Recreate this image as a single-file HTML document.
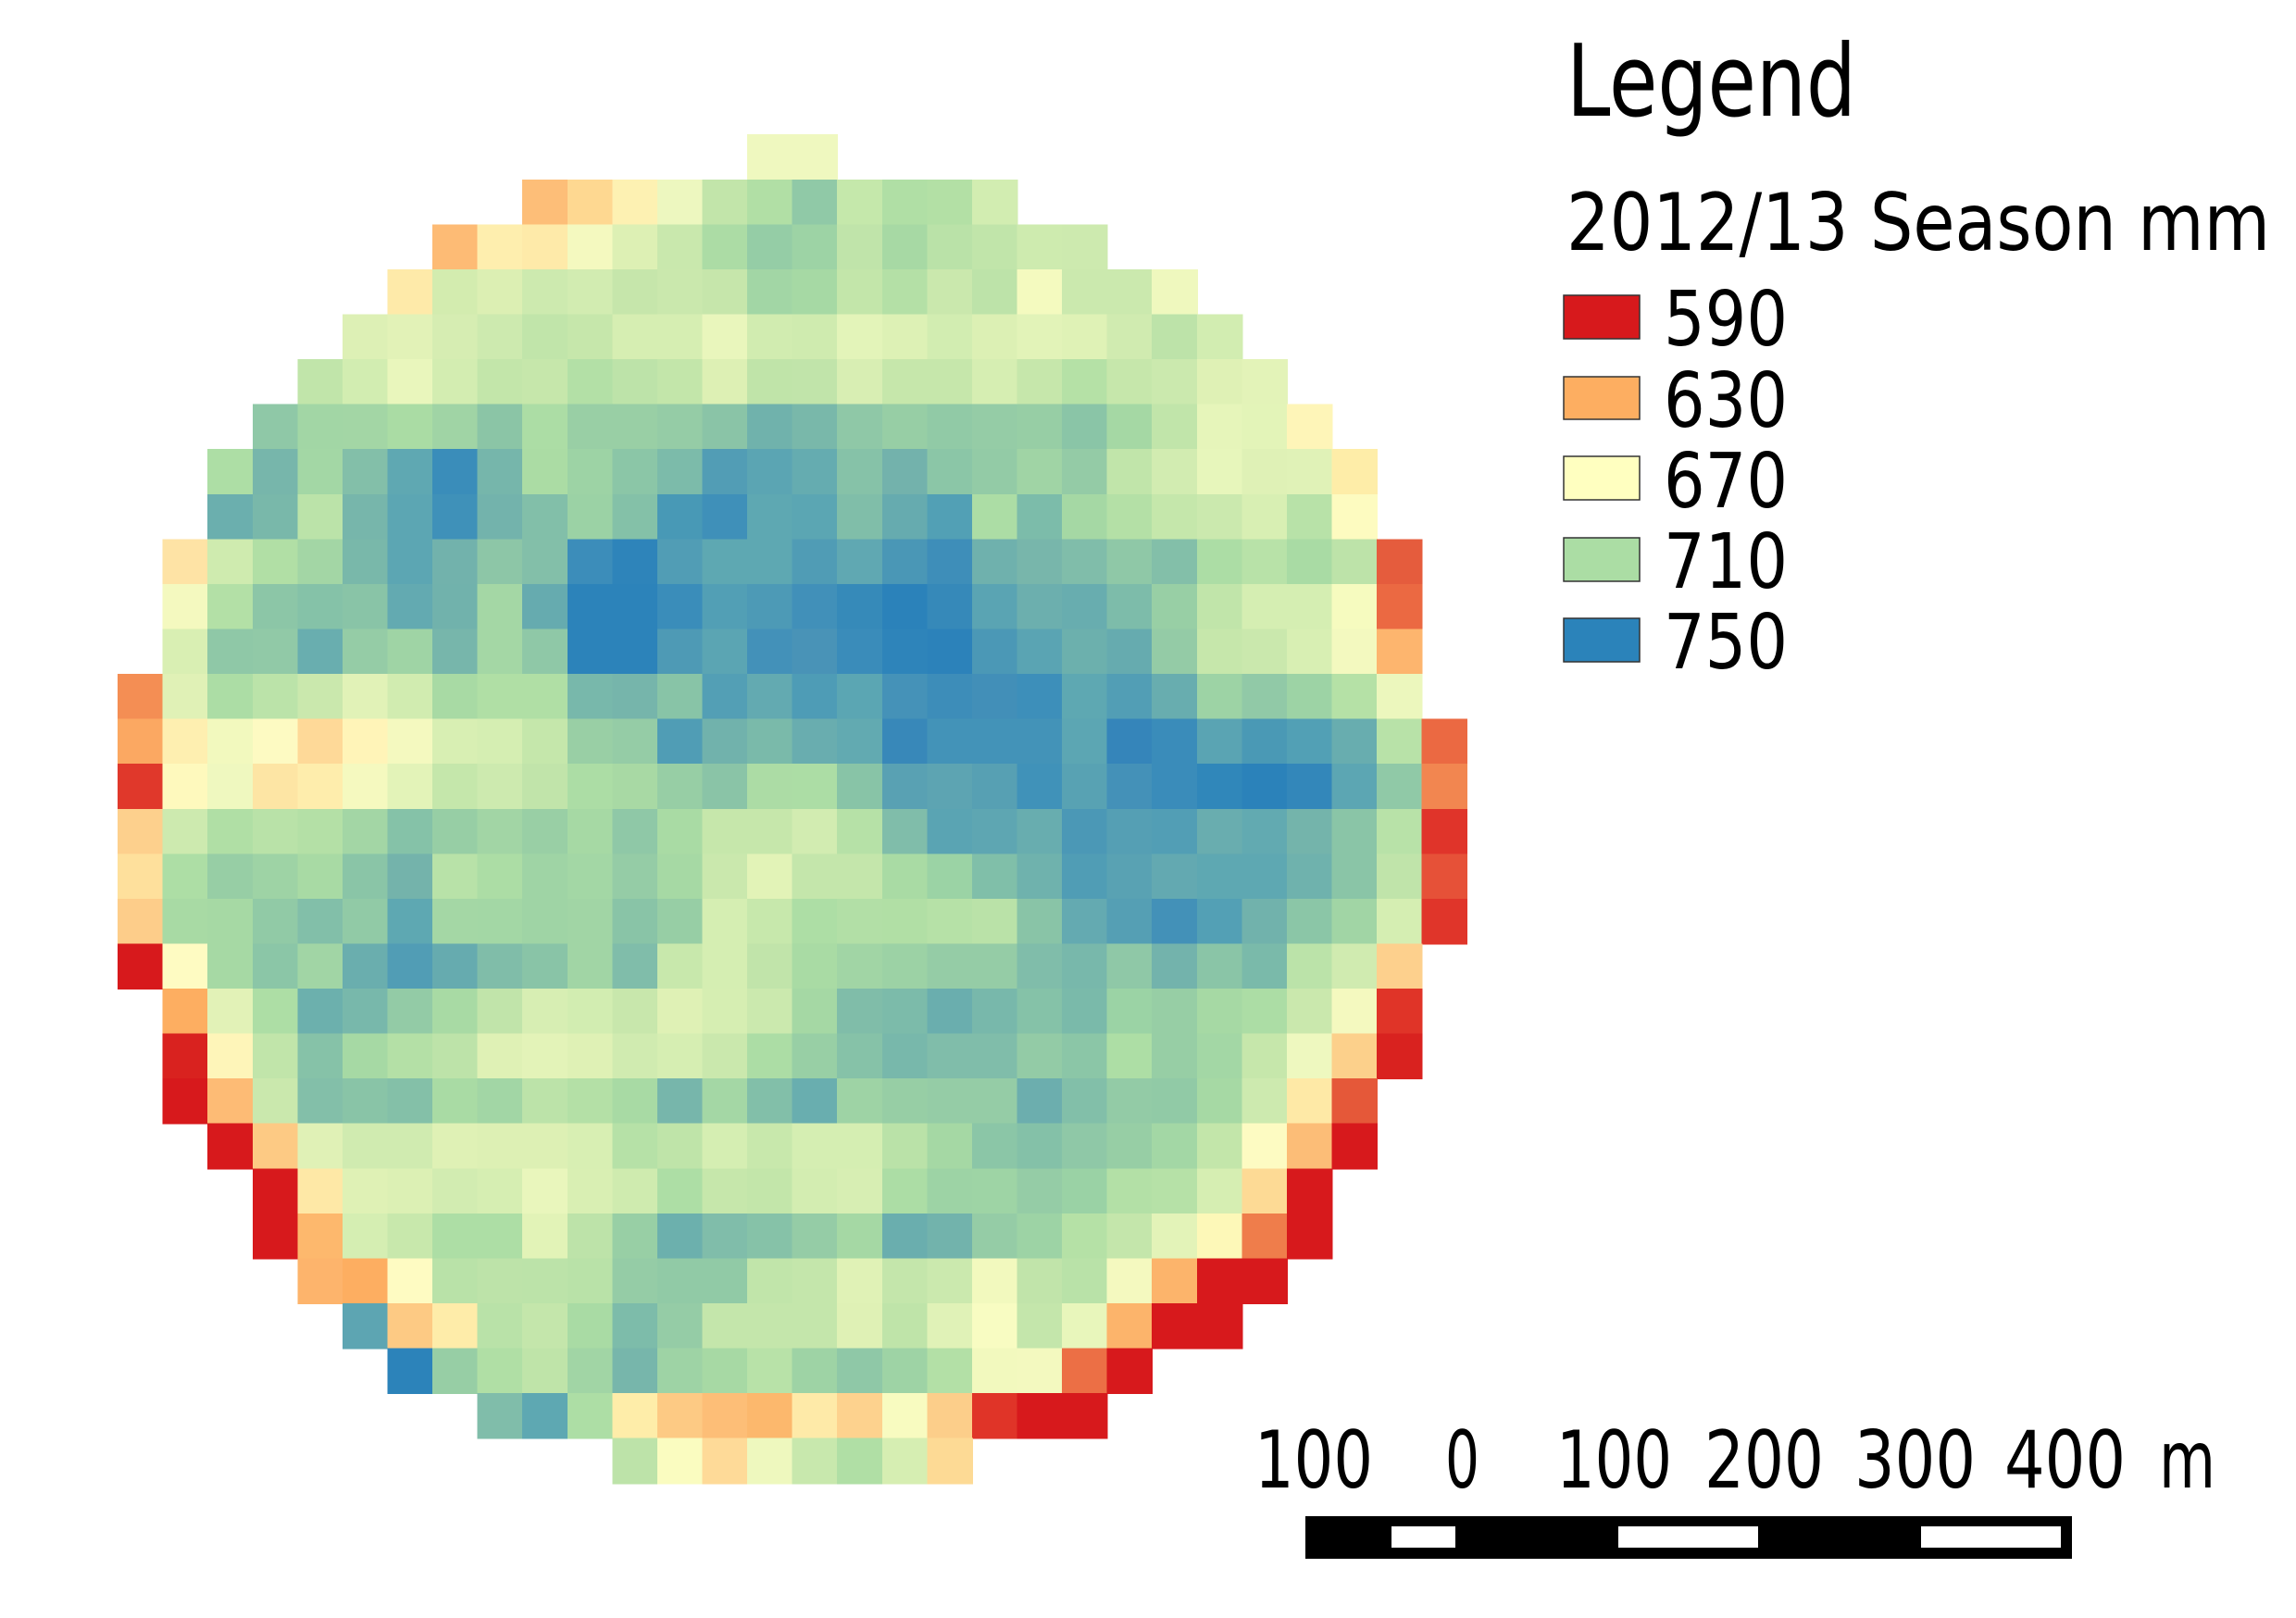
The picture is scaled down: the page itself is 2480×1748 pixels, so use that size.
<!DOCTYPE html>
<html><head><meta charset="utf-8"><style>
html,body{margin:0;padding:0;background:#fff;}
svg{display:block}
#grid rect{width:1.02px;height:1.02px}
text{font-family:"DejaVu Sans","Liberation Sans",sans-serif;fill:#000}
</style></head><body>
<svg width="2480" height="1748" viewBox="0 0 2480 1748" xmlns="http://www.w3.org/2000/svg">
<rect width="2480" height="1748" fill="#fff"/>
<g id="grid" transform="translate(127.1,145.2) scale(48.57)" shape-rendering="crispEdges">
<g transform="translate(0,0)"><rect x="14" fill="#eff8bf"/><rect x="15" fill="#eff8bf"/></g>
<g transform="translate(0,1)"><rect x="9" fill="#fdbe78"/><rect x="10" fill="#fed891"/><rect x="11" fill="#fdf1b2"/><rect x="12" fill="#edf7bf"/><rect x="13" fill="#c2e5aa"/><rect x="14" fill="#b1dfa5"/><rect x="15" fill="#90c9a7"/><rect x="16" fill="#c5e8ab"/><rect x="17" fill="#b0dfa5"/><rect x="18" fill="#b3e0a5"/><rect x="19" fill="#d2edb1"/></g>
<g transform="translate(0,2)"><rect x="7" fill="#fdbb75"/><rect x="8" fill="#feeeae"/><rect x="9" fill="#feeaa9"/><rect x="10" fill="#f4f9bf"/><rect x="11" fill="#ddf0b4"/><rect x="12" fill="#c9e8ad"/><rect x="13" fill="#acdca5"/><rect x="14" fill="#95cda6"/><rect x="15" fill="#9dd3a5"/><rect x="16" fill="#c0e4aa"/><rect x="17" fill="#a7d9a4"/><rect x="18" fill="#bae2a8"/><rect x="19" fill="#c1e5aa"/><rect x="20" fill="#ceebaf"/><rect x="21" fill="#cdeaaf"/></g>
<g transform="translate(0,3)"><rect x="6" fill="#feeaa9"/><rect x="7" fill="#d3ecaf"/><rect x="8" fill="#dcefb3"/><rect x="9" fill="#cdeaaf"/><rect x="10" fill="#d2ecb1"/><rect x="11" fill="#c6e6ab"/><rect x="12" fill="#cae8ad"/><rect x="13" fill="#c6e6ab"/><rect x="14" fill="#a2d6a5"/><rect x="15" fill="#a6d9a4"/><rect x="16" fill="#c3e6aa"/><rect x="17" fill="#b4e0a6"/><rect x="18" fill="#cae8ad"/><rect x="19" fill="#bde3a9"/><rect x="20" fill="#f4fabf"/><rect x="21" fill="#cbe9ae"/><rect x="22" fill="#cbe9ae"/><rect x="23" fill="#eff8be"/></g>
<g transform="translate(0,4)"><rect x="5" fill="#ddf0b5"/><rect x="6" fill="#e2f2b7"/><rect x="7" fill="#d6edb2"/><rect x="8" fill="#cdeaaf"/><rect x="9" fill="#c1e5aa"/><rect x="10" fill="#c6e7ab"/><rect x="11" fill="#d6eeb2"/><rect x="12" fill="#d6eeb2"/><rect x="13" fill="#e9f6bc"/><rect x="14" fill="#d1ecb0"/><rect x="15" fill="#cfebaf"/><rect x="16" fill="#e3f4b9"/><rect x="17" fill="#ddf1b5"/><rect x="18" fill="#d2edb1"/><rect x="19" fill="#dcf0b4"/><rect x="20" fill="#e2f3b8"/><rect x="21" fill="#dff2b6"/><rect x="22" fill="#d0ebb0"/><rect x="23" fill="#bde3a9"/><rect x="24" fill="#d2edb1"/></g>
<g transform="translate(0,5)"><rect x="4" fill="#c1e5aa"/><rect x="5" fill="#d2edb1"/><rect x="6" fill="#e9f6bc"/><rect x="7" fill="#d3edb1"/><rect x="8" fill="#c3e6aa"/><rect x="9" fill="#c6e7ab"/><rect x="10" fill="#b3e0a6"/><rect x="11" fill="#bde3a9"/><rect x="12" fill="#c3e6aa"/><rect x="13" fill="#ddf0b4"/><rect x="14" fill="#c0e4a9"/><rect x="15" fill="#c1e4aa"/><rect x="16" fill="#d8eeb3"/><rect x="17" fill="#c6e7ab"/><rect x="18" fill="#c6e7ab"/><rect x="19" fill="#d6eeb2"/><rect x="20" fill="#c6e7ab"/><rect x="21" fill="#b5e1a6"/><rect x="22" fill="#c6e7ab"/><rect x="23" fill="#cbe9ae"/><rect x="24" fill="#dff1b5"/><rect x="25" fill="#e3f3b8"/></g>
<g transform="translate(0,6)"><rect x="3" fill="#8fc8a7"/><rect x="4" fill="#a2d6a5"/><rect x="5" fill="#a3d6a5"/><rect x="6" fill="#aadca4"/><rect x="7" fill="#a0d4a5"/><rect x="8" fill="#8bc5a6"/><rect x="9" fill="#acdda5"/><rect x="10" fill="#99cfa5"/><rect x="11" fill="#99cfa5"/><rect x="12" fill="#95cca6"/><rect x="13" fill="#8ac4a7"/><rect x="14" fill="#70b2ac"/><rect x="15" fill="#79b8aa"/><rect x="16" fill="#8fc8a7"/><rect x="17" fill="#97cea5"/><rect x="18" fill="#91caa6"/><rect x="19" fill="#95cca6"/><rect x="20" fill="#97cea5"/><rect x="21" fill="#8ac5a7"/><rect x="22" fill="#a5d8a4"/><rect x="23" fill="#c1e5aa"/><rect x="24" fill="#e6f5ba"/><rect x="25" fill="#e3f4b8"/><rect x="26" fill="#fef5b8"/></g>
<g transform="translate(0,7)"><rect x="2" fill="#addea5"/><rect x="3" fill="#77b6ab"/><rect x="4" fill="#a3d7a5"/><rect x="5" fill="#83bfa9"/><rect x="6" fill="#5fa8b2"/><rect x="7" fill="#3a8dba"/><rect x="8" fill="#76b6ab"/><rect x="9" fill="#abdca4"/><rect x="10" fill="#9dd3a5"/><rect x="11" fill="#8bc6a7"/><rect x="12" fill="#7cbbaa"/><rect x="13" fill="#529db5"/><rect x="14" fill="#5ba5b3"/><rect x="15" fill="#65acb0"/><rect x="16" fill="#86c2a8"/><rect x="17" fill="#73b2ac"/><rect x="18" fill="#8bc6a7"/><rect x="19" fill="#93cba6"/><rect x="20" fill="#a0d4a5"/><rect x="21" fill="#94cba6"/><rect x="22" fill="#c1e5aa"/><rect x="23" fill="#d2ecb1"/><rect x="24" fill="#e7f6bb"/><rect x="25" fill="#dff1b6"/><rect x="26" fill="#e0f2b7"/><rect x="27" fill="#feeda8"/></g>
<g transform="translate(0,8)"><rect x="2" fill="#6bafae"/><rect x="3" fill="#79b8aa"/><rect x="4" fill="#bbe3a9"/><rect x="5" fill="#77b6ab"/><rect x="6" fill="#5ca6b3"/><rect x="7" fill="#3f91b9"/><rect x="8" fill="#73b3ac"/><rect x="9" fill="#82bfa9"/><rect x="10" fill="#9bd2a5"/><rect x="11" fill="#84c1a8"/><rect x="12" fill="#4899b6"/><rect x="13" fill="#3f90b9"/><rect x="14" fill="#5ea8b2"/><rect x="15" fill="#5ba6b3"/><rect x="16" fill="#80bea9"/><rect x="17" fill="#66abaf"/><rect x="18" fill="#52a0b5"/><rect x="19" fill="#acdda5"/><rect x="20" fill="#7cbcaa"/><rect x="21" fill="#a5d8a4"/><rect x="22" fill="#b4e0a6"/><rect x="23" fill="#c5e7ab"/><rect x="24" fill="#cbe9ae"/><rect x="25" fill="#d8efb3"/><rect x="26" fill="#b8e2a8"/><rect x="27" fill="#fdfbc0"/></g>
<g transform="translate(0,9)"><rect x="1" fill="#fee3a5"/><rect x="2" fill="#cfebaf"/><rect x="3" fill="#b1dfa5"/><rect x="4" fill="#a3d6a5"/><rect x="5" fill="#79b8aa"/><rect x="6" fill="#5ca6b3"/><rect x="7" fill="#72b2ac"/><rect x="8" fill="#8dc6a7"/><rect x="9" fill="#83bfa9"/><rect x="10" fill="#3c8dba"/><rect x="11" fill="#2e84ba"/><rect x="12" fill="#519db5"/><rect x="13" fill="#5ea8b2"/><rect x="14" fill="#5ea8b2"/><rect x="15" fill="#509cb5"/><rect x="16" fill="#60a8b2"/><rect x="17" fill="#4a97b6"/><rect x="18" fill="#3e8eb9"/><rect x="19" fill="#6fb1ad"/><rect x="20" fill="#78b6ab"/><rect x="21" fill="#80bdaa"/><rect x="22" fill="#8fc8a7"/><rect x="23" fill="#83bfa9"/><rect x="24" fill="#acdda5"/><rect x="25" fill="#b8e2a8"/><rect x="26" fill="#a9dba4"/><rect x="27" fill="#bde3a9"/><rect x="28" fill="#e55c3d"/></g>
<g transform="translate(0,10)"><rect x="1" fill="#f4f9bf"/><rect x="2" fill="#b3e0a6"/><rect x="3" fill="#8cc6a7"/><rect x="4" fill="#85c2a8"/><rect x="5" fill="#89c4a7"/><rect x="6" fill="#63aab1"/><rect x="7" fill="#71b2ac"/><rect x="8" fill="#a4d7a5"/><rect x="9" fill="#66abaf"/><rect x="10" fill="#2c83ba"/><rect x="11" fill="#2c83ba"/><rect x="12" fill="#3a8dba"/><rect x="13" fill="#529fb5"/><rect x="14" fill="#4d9ab6"/><rect x="15" fill="#4190b9"/><rect x="16" fill="#368ab9"/><rect x="17" fill="#2b82ba"/><rect x="18" fill="#3689b9"/><rect x="19" fill="#5aa4b3"/><rect x="20" fill="#6cafae"/><rect x="21" fill="#68adaf"/><rect x="22" fill="#7dbcaa"/><rect x="23" fill="#98cfa5"/><rect x="24" fill="#c1e5aa"/><rect x="25" fill="#d5eeb2"/><rect x="26" fill="#d5eeb2"/><rect x="27" fill="#f6fbbf"/><rect x="28" fill="#eb6942"/></g>
<g transform="translate(0,11)"><rect x="1" fill="#d9efb3"/><rect x="2" fill="#8fc8a7"/><rect x="3" fill="#91c9a7"/><rect x="4" fill="#69aeaf"/><rect x="5" fill="#95cca6"/><rect x="6" fill="#9fd4a5"/><rect x="7" fill="#77b6ab"/><rect x="8" fill="#a4d7a5"/><rect x="9" fill="#8fc8a7"/><rect x="10" fill="#2c83ba"/><rect x="11" fill="#2c83ba"/><rect x="12" fill="#4e9ab5"/><rect x="13" fill="#5ba5b3"/><rect x="14" fill="#4391b9"/><rect x="15" fill="#4993b7"/><rect x="16" fill="#3a8cba"/><rect x="17" fill="#2e84ba"/><rect x="18" fill="#2c82ba"/><rect x="19" fill="#4b98b6"/><rect x="20" fill="#5aa4b3"/><rect x="21" fill="#6cb0ad"/><rect x="22" fill="#66abaf"/><rect x="23" fill="#94cba6"/><rect x="24" fill="#c6e7ab"/><rect x="25" fill="#cae8ad"/><rect x="26" fill="#d8efb3"/><rect x="27" fill="#f3f9bf"/><rect x="28" fill="#fdb56e"/></g>
<g transform="translate(0,12)"><rect x="0" fill="#f48e54"/><rect x="1" fill="#e0f1b6"/><rect x="2" fill="#acdda5"/><rect x="3" fill="#bbe3a9"/><rect x="4" fill="#cae8ad"/><rect x="5" fill="#e1f2b7"/><rect x="6" fill="#d1ecb0"/><rect x="7" fill="#a8daa4"/><rect x="8" fill="#b0dfa5"/><rect x="9" fill="#b0dfa5"/><rect x="10" fill="#78b8ab"/><rect x="11" fill="#76b5ab"/><rect x="12" fill="#88c4a7"/><rect x="13" fill="#539fb5"/><rect x="14" fill="#63aab1"/><rect x="15" fill="#4e9cb6"/><rect x="16" fill="#5ba6b3"/><rect x="17" fill="#4592b8"/><rect x="18" fill="#3d8db9"/><rect x="19" fill="#428fb8"/><rect x="20" fill="#3d8fba"/><rect x="21" fill="#5ea8b2"/><rect x="22" fill="#529eb5"/><rect x="23" fill="#68adaf"/><rect x="24" fill="#9dd3a5"/><rect x="25" fill="#91c9a7"/><rect x="26" fill="#9dd3a5"/><rect x="27" fill="#b5e1a6"/><rect x="28" fill="#ecf7bd"/></g>
<g transform="translate(0,13)"><rect x="0" fill="#fba862"/><rect x="1" fill="#feefb0"/><rect x="2" fill="#f2f9be"/><rect x="3" fill="#fdfac2"/><rect x="4" fill="#fed998"/><rect x="5" fill="#fff4b8"/><rect x="6" fill="#f4f9bf"/><rect x="7" fill="#d8efb3"/><rect x="8" fill="#d5eeb2"/><rect x="9" fill="#c5e7ab"/><rect x="10" fill="#99cfa5"/><rect x="11" fill="#95cca6"/><rect x="12" fill="#509db5"/><rect x="13" fill="#71b2ac"/><rect x="14" fill="#7abaaa"/><rect x="15" fill="#69adaf"/><rect x="16" fill="#62aab1"/><rect x="17" fill="#3888b9"/><rect x="18" fill="#4393b8"/><rect x="19" fill="#4393b8"/><rect x="20" fill="#4393b8"/><rect x="21" fill="#5ca6b3"/><rect x="22" fill="#3585ba"/><rect x="23" fill="#3a8cba"/><rect x="24" fill="#5aa4b3"/><rect x="25" fill="#4a99b5"/><rect x="26" fill="#52a0b5"/><rect x="27" fill="#68adaf"/><rect x="28" fill="#b8e2a8"/><rect x="29" fill="#eb6942"/></g>
<g transform="translate(0,14)"><rect x="0" fill="#e0382b"/><rect x="1" fill="#fef9bd"/><rect x="2" fill="#eff8bf"/><rect x="3" fill="#fde5a4"/><rect x="4" fill="#feedac"/><rect x="5" fill="#f5f9bf"/><rect x="6" fill="#e3f3b8"/><rect x="7" fill="#c5e7ab"/><rect x="8" fill="#cdeaaf"/><rect x="9" fill="#c1e4aa"/><rect x="10" fill="#acdda5"/><rect x="11" fill="#a8d9a4"/><rect x="12" fill="#97cea5"/><rect x="13" fill="#8ac4a7"/><rect x="14" fill="#acdca5"/><rect x="15" fill="#acdda5"/><rect x="16" fill="#88c4a7"/><rect x="17" fill="#59a1b3"/><rect x="18" fill="#5da4b2"/><rect x="19" fill="#57a0b3"/><rect x="20" fill="#4092b9"/><rect x="21" fill="#58a2b3"/><rect x="22" fill="#4491b8"/><rect x="23" fill="#3a8cba"/><rect x="24" fill="#3087ba"/><rect x="25" fill="#2b82ba"/><rect x="26" fill="#3387ba"/><rect x="27" fill="#5ca6b3"/><rect x="28" fill="#90c9a7"/><rect x="29" fill="#f28650"/></g>
<g transform="translate(0,15)"><rect x="0" fill="#fdd08d"/><rect x="1" fill="#cdeaaf"/><rect x="2" fill="#b0dfa5"/><rect x="3" fill="#b9e2a8"/><rect x="4" fill="#b4e0a6"/><rect x="5" fill="#a3d6a5"/><rect x="6" fill="#85c2a8"/><rect x="7" fill="#97cea5"/><rect x="8" fill="#a2d5a5"/><rect x="9" fill="#99cfa5"/><rect x="10" fill="#a6d9a4"/><rect x="11" fill="#8fc8a7"/><rect x="12" fill="#a9dba4"/><rect x="13" fill="#c6e7ab"/><rect x="14" fill="#c6e7ab"/><rect x="15" fill="#d2ecb1"/><rect x="16" fill="#b6e1a7"/><rect x="17" fill="#80bdaa"/><rect x="18" fill="#5aa4b3"/><rect x="19" fill="#5ea6b2"/><rect x="20" fill="#68adaf"/><rect x="21" fill="#4b98b6"/><rect x="22" fill="#559fb4"/><rect x="23" fill="#529eb5"/><rect x="24" fill="#69adaf"/><rect x="25" fill="#62aab1"/><rect x="26" fill="#74b4ab"/><rect x="27" fill="#8ac5a7"/><rect x="28" fill="#b8e2a8"/><rect x="29" fill="#e0342a"/></g>
<g transform="translate(0,16)"><rect x="0" fill="#fee09c"/><rect x="1" fill="#addea5"/><rect x="2" fill="#97cea5"/><rect x="3" fill="#9ed3a5"/><rect x="4" fill="#a8daa4"/><rect x="5" fill="#8ac5a7"/><rect x="6" fill="#74b3ab"/><rect x="7" fill="#b8e2a8"/><rect x="8" fill="#acdda5"/><rect x="9" fill="#9fd4a5"/><rect x="10" fill="#a3d7a5"/><rect x="11" fill="#95cca6"/><rect x="12" fill="#a6d9a4"/><rect x="13" fill="#cae8ad"/><rect x="14" fill="#e2f3b7"/><rect x="15" fill="#c4e6ab"/><rect x="16" fill="#c4e6ab"/><rect x="17" fill="#a9dba4"/><rect x="18" fill="#9bd3a5"/><rect x="19" fill="#80bfa9"/><rect x="20" fill="#6fb2ad"/><rect x="21" fill="#509db5"/><rect x="22" fill="#59a2b3"/><rect x="23" fill="#63a9b1"/><rect x="24" fill="#5ea8b2"/><rect x="25" fill="#5ea8b2"/><rect x="26" fill="#6fb2ad"/><rect x="27" fill="#8ac5a7"/><rect x="28" fill="#c0e4aa"/><rect x="29" fill="#e65138"/></g>
<g transform="translate(0,17)"><rect x="0" fill="#fdcd8a"/><rect x="1" fill="#a8daa4"/><rect x="2" fill="#a6d9a4"/><rect x="3" fill="#91caa6"/><rect x="4" fill="#82bfa9"/><rect x="5" fill="#91caa6"/><rect x="6" fill="#5ea8b2"/><rect x="7" fill="#a4d7a5"/><rect x="8" fill="#a3d7a5"/><rect x="9" fill="#9fd4a5"/><rect x="10" fill="#a1d5a5"/><rect x="11" fill="#89c4a7"/><rect x="12" fill="#97cea5"/><rect x="13" fill="#d5eeb2"/><rect x="14" fill="#c7e8ac"/><rect x="15" fill="#addea5"/><rect x="16" fill="#b2dfa6"/><rect x="17" fill="#b1dfa5"/><rect x="18" fill="#b6e1a7"/><rect x="19" fill="#bae2a8"/><rect x="20" fill="#89c4a7"/><rect x="21" fill="#64aab1"/><rect x="22" fill="#559fb4"/><rect x="23" fill="#4391b8"/><rect x="24" fill="#53a0b5"/><rect x="25" fill="#71b2ac"/><rect x="26" fill="#8bc6a7"/><rect x="27" fill="#a1d5a5"/><rect x="28" fill="#d5eeb2"/><rect x="29" fill="#e0352a"/></g>
<g transform="translate(0,18)"><rect x="0" fill="#d7191c"/><rect x="1" fill="#fefbc2"/><rect x="2" fill="#a6d9a4"/><rect x="3" fill="#8bc6a7"/><rect x="4" fill="#a1d5a5"/><rect x="5" fill="#6aaeae"/><rect x="6" fill="#519db5"/><rect x="7" fill="#66abaf"/><rect x="8" fill="#80bda9"/><rect x="9" fill="#89c4a7"/><rect x="10" fill="#a1d5a5"/><rect x="11" fill="#80bdaa"/><rect x="12" fill="#c8e8ac"/><rect x="13" fill="#d5eeb2"/><rect x="14" fill="#c1e4aa"/><rect x="15" fill="#a9dba4"/><rect x="16" fill="#a1d5a5"/><rect x="17" fill="#9cd2a5"/><rect x="18" fill="#95cca6"/><rect x="19" fill="#95cca6"/><rect x="20" fill="#80bdaa"/><rect x="21" fill="#78b8ab"/><rect x="22" fill="#8fc8a7"/><rect x="23" fill="#73b3ac"/><rect x="24" fill="#8ac5a7"/><rect x="25" fill="#7abaaa"/><rect x="26" fill="#bbe3a9"/><rect x="27" fill="#d0ebb0"/><rect x="28" fill="#fdd08d"/></g>
<g transform="translate(0,19)"><rect x="1" fill="#fdae61"/><rect x="2" fill="#e2f2b7"/><rect x="3" fill="#addea5"/><rect x="4" fill="#6cb0ad"/><rect x="5" fill="#78b8ab"/><rect x="6" fill="#93cba6"/><rect x="7" fill="#a8daa4"/><rect x="8" fill="#c1e4aa"/><rect x="9" fill="#d7eeb3"/><rect x="10" fill="#d2edb1"/><rect x="11" fill="#c8e7ac"/><rect x="12" fill="#dff1b5"/><rect x="13" fill="#d6eeb2"/><rect x="14" fill="#cbe9ae"/><rect x="15" fill="#a5d8a4"/><rect x="16" fill="#80bda9"/><rect x="17" fill="#7cbbaa"/><rect x="18" fill="#6aaeae"/><rect x="19" fill="#78b8ab"/><rect x="20" fill="#85c2a8"/><rect x="21" fill="#7abaaa"/><rect x="22" fill="#9bd3a5"/><rect x="23" fill="#97cea5"/><rect x="24" fill="#a6d9a4"/><rect x="25" fill="#acdda5"/><rect x="26" fill="#cae8ad"/><rect x="27" fill="#f4f9bf"/><rect x="28" fill="#e03428"/></g>
<g transform="translate(0,20)"><rect x="1" fill="#d9221f"/><rect x="2" fill="#fef5b9"/><rect x="3" fill="#c1e5aa"/><rect x="4" fill="#86c2a8"/><rect x="5" fill="#a6d9a4"/><rect x="6" fill="#b4e0a6"/><rect x="7" fill="#bde3a9"/><rect x="8" fill="#dff1b5"/><rect x="9" fill="#e3f3b8"/><rect x="10" fill="#dff1b5"/><rect x="11" fill="#d0ebb0"/><rect x="12" fill="#d6eeb2"/><rect x="13" fill="#cae8ad"/><rect x="14" fill="#acdda5"/><rect x="15" fill="#98cfa5"/><rect x="16" fill="#86c2a8"/><rect x="17" fill="#78b8ab"/><rect x="18" fill="#80bdaa"/><rect x="19" fill="#80bdaa"/><rect x="20" fill="#93cba6"/><rect x="21" fill="#8bc6a7"/><rect x="22" fill="#addea5"/><rect x="23" fill="#97cea5"/><rect x="24" fill="#a3d7a5"/><rect x="25" fill="#c6e7ab"/><rect x="26" fill="#eef8bf"/><rect x="27" fill="#fcd08b"/><rect x="28" fill="#d9221f"/></g>
<g transform="translate(0,21)"><rect x="1" fill="#d7191c"/><rect x="2" fill="#fdbb75"/><rect x="3" fill="#cae8ad"/><rect x="4" fill="#83bfa9"/><rect x="5" fill="#89c4a7"/><rect x="6" fill="#84c0a8"/><rect x="7" fill="#a9dba4"/><rect x="8" fill="#a2d6a5"/><rect x="9" fill="#bce3a9"/><rect x="10" fill="#b4e0a6"/><rect x="11" fill="#a8daa4"/><rect x="12" fill="#77b6ab"/><rect x="13" fill="#a4d7a5"/><rect x="14" fill="#82bfa9"/><rect x="15" fill="#69aeaf"/><rect x="16" fill="#9ed3a5"/><rect x="17" fill="#97cea5"/><rect x="18" fill="#95cca6"/><rect x="19" fill="#95cca6"/><rect x="20" fill="#6caeae"/><rect x="21" fill="#82bfa9"/><rect x="22" fill="#93cba6"/><rect x="23" fill="#91caa6"/><rect x="24" fill="#a6d9a4"/><rect x="25" fill="#cdeaaf"/><rect x="26" fill="#fee9a6"/><rect x="27" fill="#e55839"/></g>
<g transform="translate(0,22)"><rect x="2" fill="#d7191c"/><rect x="3" fill="#fdca84"/><rect x="4" fill="#e0f1b6"/><rect x="5" fill="#d0ebb0"/><rect x="6" fill="#d0ebb0"/><rect x="7" fill="#dff1b5"/><rect x="8" fill="#ddf0b4"/><rect x="9" fill="#ddf0b4"/><rect x="10" fill="#d8efb3"/><rect x="11" fill="#b6e1a7"/><rect x="12" fill="#bfe4a9"/><rect x="13" fill="#d5eeb2"/><rect x="14" fill="#c8e8ac"/><rect x="15" fill="#d5eeb2"/><rect x="16" fill="#d5eeb2"/><rect x="17" fill="#bae2a8"/><rect x="18" fill="#a5d8a4"/><rect x="19" fill="#8bc6a7"/><rect x="20" fill="#84c1a8"/><rect x="21" fill="#8fc8a7"/><rect x="22" fill="#97cea5"/><rect x="23" fill="#a3d7a5"/><rect x="24" fill="#c3e6aa"/><rect x="25" fill="#fdfbc2"/><rect x="26" fill="#fcbd77"/><rect x="27" fill="#d7191c"/></g>
<g transform="translate(0,23)"><rect x="3" fill="#d7191c"/><rect x="4" fill="#fee8a6"/><rect x="5" fill="#dff1b5"/><rect x="6" fill="#dcf0b4"/><rect x="7" fill="#d2ecb1"/><rect x="8" fill="#d6eeb2"/><rect x="9" fill="#e9f6bc"/><rect x="10" fill="#d9efb3"/><rect x="11" fill="#cfebaf"/><rect x="12" fill="#addea5"/><rect x="13" fill="#c6e7ab"/><rect x="14" fill="#c3e6aa"/><rect x="15" fill="#d3edb1"/><rect x="16" fill="#d7eeb3"/><rect x="17" fill="#acdda5"/><rect x="18" fill="#9dd3a5"/><rect x="19" fill="#9ed4a5"/><rect x="20" fill="#95cca6"/><rect x="21" fill="#9ad2a5"/><rect x="22" fill="#b3e0a6"/><rect x="23" fill="#b6e1a7"/><rect x="24" fill="#d6eeb2"/><rect x="25" fill="#fdda95"/><rect x="26" fill="#d7191c"/></g>
<g transform="translate(0,24)"><rect x="3" fill="#d7191c"/><rect x="4" fill="#fdb86d"/><rect x="5" fill="#d5eeb2"/><rect x="6" fill="#c8e8ac"/><rect x="7" fill="#addea5"/><rect x="8" fill="#addea5"/><rect x="9" fill="#e2f3b7"/><rect x="10" fill="#bde3a9"/><rect x="11" fill="#98cfa5"/><rect x="12" fill="#6cb0ad"/><rect x="13" fill="#80bdaa"/><rect x="14" fill="#86c2a8"/><rect x="15" fill="#95cca6"/><rect x="16" fill="#a5d8a4"/><rect x="17" fill="#6aaeae"/><rect x="18" fill="#72b3ac"/><rect x="19" fill="#95cca6"/><rect x="20" fill="#9dd3a5"/><rect x="21" fill="#b5e1a6"/><rect x="22" fill="#c4e6ab"/><rect x="23" fill="#e3f3b8"/><rect x="24" fill="#fdf8b8"/><rect x="25" fill="#ef7d4b"/><rect x="26" fill="#d7191c"/></g>
<g transform="translate(0,25)"><rect x="4" fill="#fdb46c"/><rect x="5" fill="#fdae61"/><rect x="6" fill="#fefbc2"/><rect x="7" fill="#b9e2a8"/><rect x="8" fill="#bde3a9"/><rect x="9" fill="#bce3a9"/><rect x="10" fill="#b9e2a8"/><rect x="11" fill="#95cca6"/><rect x="12" fill="#91caa6"/><rect x="13" fill="#91caa6"/><rect x="14" fill="#c1e5aa"/><rect x="15" fill="#c4e6ab"/><rect x="16" fill="#e0f2b6"/><rect x="17" fill="#c4e6ab"/><rect x="18" fill="#cbe9ae"/><rect x="19" fill="#f2f9be"/><rect x="20" fill="#c1e4aa"/><rect x="21" fill="#b9e2a8"/><rect x="22" fill="#f4f9bf"/><rect x="23" fill="#fcb46b"/><rect x="24" fill="#d7191c"/><rect x="25" fill="#d7191c"/></g>
<g transform="translate(0,26)"><rect x="5" fill="#5da5b2"/><rect x="6" fill="#fdca84"/><rect x="7" fill="#feeca9"/><rect x="8" fill="#b9e2a8"/><rect x="9" fill="#c4e6ab"/><rect x="10" fill="#a9dba4"/><rect x="11" fill="#7dbcaa"/><rect x="12" fill="#95cca6"/><rect x="13" fill="#c4e6ab"/><rect x="14" fill="#c4e6ab"/><rect x="15" fill="#c4e6ab"/><rect x="16" fill="#dff1b5"/><rect x="17" fill="#bfe4a9"/><rect x="18" fill="#e0f2b7"/><rect x="19" fill="#f8fcc2"/><rect x="20" fill="#c4e6ab"/><rect x="21" fill="#e8f6bb"/><rect x="22" fill="#fcb46b"/><rect x="23" fill="#d7191c"/><rect x="24" fill="#d7191c"/></g>
<g transform="translate(0,27)"><rect x="6" fill="#2c83ba"/><rect x="7" fill="#97cea5"/><rect x="8" fill="#b0dfa5"/><rect x="9" fill="#bfe4a9"/><rect x="10" fill="#a1d5a5"/><rect x="11" fill="#77b6ab"/><rect x="12" fill="#9ed3a5"/><rect x="13" fill="#a7d9a4"/><rect x="14" fill="#b8e2a8"/><rect x="15" fill="#9ed3a5"/><rect x="16" fill="#8fc8a7"/><rect x="17" fill="#9ed3a5"/><rect x="18" fill="#b3e0a6"/><rect x="19" fill="#f2f9be"/><rect x="20" fill="#f3f9bf"/><rect x="21" fill="#ec6f45"/><rect x="22" fill="#d7191c"/></g>
<g transform="translate(0,28)"><rect x="8" fill="#80bdaa"/><rect x="9" fill="#5ea8b2"/><rect x="10" fill="#addea5"/><rect x="11" fill="#feeda9"/><rect x="12" fill="#fdca84"/><rect x="13" fill="#fdbe77"/><rect x="14" fill="#fcb86d"/><rect x="15" fill="#feeaa8"/><rect x="16" fill="#fdd28e"/><rect x="17" fill="#f8fbc0"/><rect x="18" fill="#fcce8a"/><rect x="19" fill="#e03428"/><rect x="20" fill="#d7191c"/><rect x="21" fill="#d7191c"/></g>
<g transform="translate(0,29)"><rect x="11" fill="#bde3a9"/><rect x="12" fill="#fafcc0"/><rect x="13" fill="#feda98"/><rect x="14" fill="#eef8be"/><rect x="15" fill="#c8e8ad"/><rect x="16" fill="#b0dfa5"/><rect x="17" fill="#d6eeb2"/><rect x="18" fill="#fdda95"/></g>
</g>

<!-- Legend -->
<text x="1692" y="125" font-size="108" textLength="313" lengthAdjust="spacingAndGlyphs">Legend</text>
<text x="1692" y="270" font-size="86" textLength="760" lengthAdjust="spacingAndGlyphs">2012/13 Season mm</text>
<g stroke="#333" stroke-width="1.5">
<rect x="1689" y="319" width="82" height="47" fill="#d7191c"/>
<rect x="1689" y="407" width="82" height="46" fill="#fdae61"/>
<rect x="1689" y="493" width="82" height="47" fill="#ffffc0"/>
<rect x="1689" y="581" width="82" height="47" fill="#abdda4"/>
<rect x="1689" y="668" width="82" height="47" fill="#2b83ba"/>
</g>
<g font-size="82">
<text x="1797" y="373" textLength="134" lengthAdjust="spacingAndGlyphs">590</text>
<text x="1797" y="461" textLength="134" lengthAdjust="spacingAndGlyphs">630</text>
<text x="1797" y="548" textLength="134" lengthAdjust="spacingAndGlyphs">670</text>
<text x="1797" y="635" textLength="134" lengthAdjust="spacingAndGlyphs">710</text>
<text x="1797" y="722" textLength="134" lengthAdjust="spacingAndGlyphs">750</text>
</g>

<!-- Scale bar -->
<g font-size="86">
<text x="1355" y="1607" textLength="128" lengthAdjust="spacingAndGlyphs">100</text>
<text x="1561" y="1607" textLength="37" lengthAdjust="spacingAndGlyphs">0</text>
<text x="1681" y="1607" textLength="125" lengthAdjust="spacingAndGlyphs">100</text>
<text x="1841" y="1607" textLength="129" lengthAdjust="spacingAndGlyphs">200</text>
<text x="2003" y="1607" textLength="131" lengthAdjust="spacingAndGlyphs">300</text>
<text x="2165" y="1607" textLength="131" lengthAdjust="spacingAndGlyphs">400</text>
<text x="2332" y="1607" textLength="61" lengthAdjust="spacingAndGlyphs">m</text>
</g>
<rect x="1410" y="1638" width="828" height="46" fill="#000"/>
<rect x="1503" y="1649" width="69" height="23" fill="#fff"/>
<rect x="1748" y="1649" width="151" height="23" fill="#fff"/>
<rect x="2075" y="1649" width="151" height="23" fill="#fff"/>
</svg>
</body></html>
